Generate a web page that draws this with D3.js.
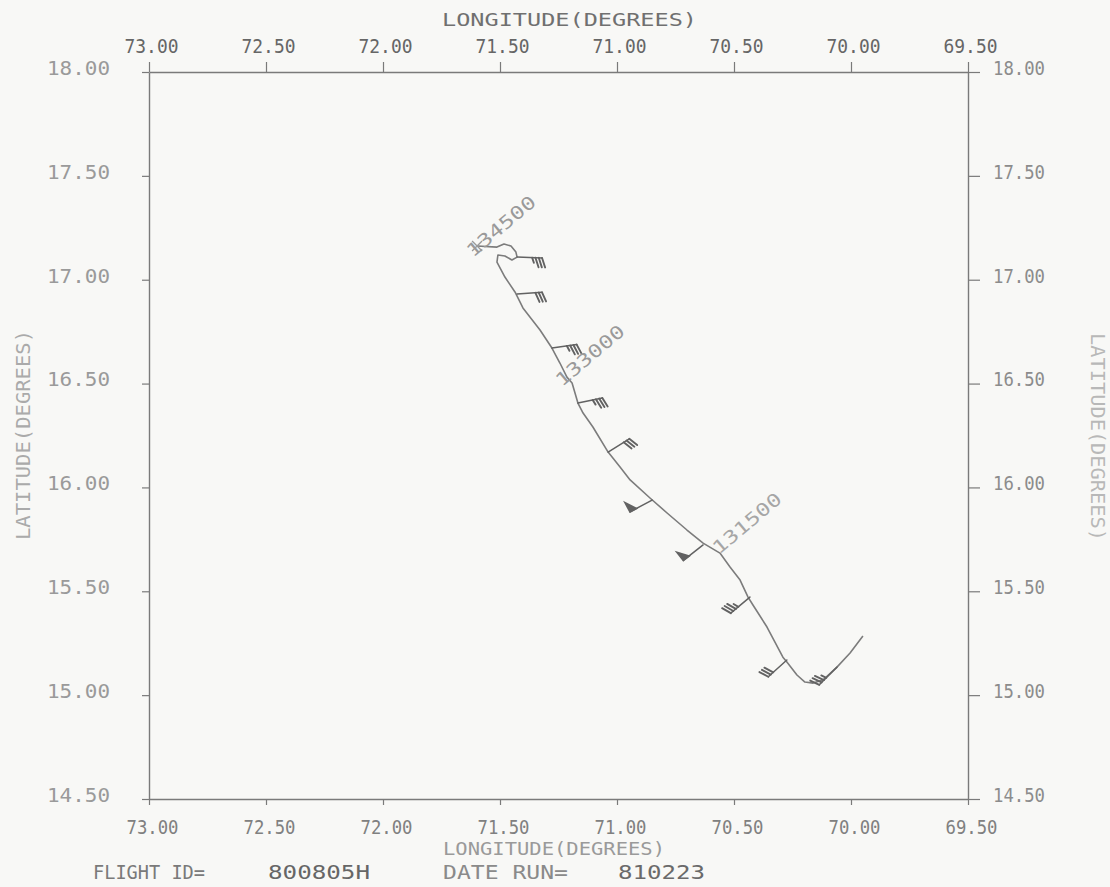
<!DOCTYPE html>
<html><head><meta charset="utf-8">
<script src="https://cdn.jsdelivr.net/npm/d3@7"></script>
<style>
html,body{margin:0;padding:0;background:#f8f8f6;}
svg{display:block;}
</style></head><body>
<svg id="c" width="1110" height="887"></svg>
<script>
// ---------- data ----------
const lonTicks = [73.0, 72.5, 72.0, 71.5, 71.0, 70.5, 70.0, 69.5];
const latTicks = [18.0, 17.5, 17.0, 16.5, 16.0, 15.5, 15.0, 14.5];

const trackLon = [71.598, 71.513, 71.483, 71.453, 71.432, 71.427, 71.449, 71.479, 71.509, 71.513,
  71.479, 71.436, 71.402, 71.329, 71.278, 71.244, 71.214, 71.192, 71.167, 71.145,
  71.103, 71.038, 70.987, 70.944, 70.859, 70.786, 70.701, 70.632, 70.560, 70.517,
  70.474, 70.440, 70.419, 70.359, 70.291, 70.274, 70.231, 70.197, 70.162, 70.120,
  70.060, 70.004, 69.949];
const trackLat = [17.162, 17.157, 17.172, 17.162, 17.133, 17.109, 17.095, 17.114, 17.119, 17.085,
  17.013, 16.941, 16.864, 16.758, 16.671, 16.599, 16.531, 16.503, 16.406, 16.358,
  16.291, 16.170, 16.098, 16.036, 15.949, 15.877, 15.795, 15.732, 15.684, 15.617,
  15.554, 15.472, 15.434, 15.328, 15.183, 15.159, 15.097, 15.063, 15.058, 15.073,
  15.135, 15.203, 15.285];

const barbLon = [71.427, 71.427, 71.278, 71.167, 71.038, 70.850, 70.632, 70.432, 70.274, 70.060];
const barbLat = [17.109, 16.931, 16.671, 16.406, 16.170, 15.939, 15.723, 15.472, 15.169, 15.135];
const barbDir = [92, 86, 82, 78, 58, 242, 232, 230, 228, 225];
const barbSpeed = [35, 30, 35, 35, 30, 50, 50, 35, 30, 35];

const timeLabels = ["134500", "133000", "131500"];
const timeLon = [71.598, 71.214, 70.560];
const timeLat = [17.162, 16.531, 15.684];

const lonTitle = "LONGITUDE(DEGREES)";
const latTitle = "LATITUDE(DEGREES)";
const footLabels = ["FLIGHT ID=", "800805H", "DATE RUN=", "810223"];

// ---------- drawing ----------
const FONT = '"DejaVu Sans Mono", monospace';
const svg = d3.select("#c");
svg.append("rect").attr("width", 1110).attr("height", 887).attr("fill", "#f8f8f6");

const x = d3.scaleLinear().domain([73, 69.5]).range([149, 968]);
const y = d3.scaleLinear().domain([18, 14.5]).range([72, 799]);
const fmt = d3.format(".2f");

function styleAxis(g, color, size, len) {
  g.select(".domain").attr("stroke", "#7a7a7a").attr("stroke-width", 1.4);
  g.selectAll(".tick line").attr("stroke", "#7a7a7a").attr("stroke-width", 1.2);
  g.selectAll(".tick text").attr("fill", color).attr("font-size", size)
    .attr("font-family", FONT).attr("textLength", len).attr("lengthAdjust", "spacingAndGlyphs");
}

const gTop = svg.append("g").attr("transform", "translate(0,72)")
  .call(d3.axisTop(x).tickValues(lonTicks).tickFormat(fmt).tickSize(10).tickSizeOuter(0).tickPadding(9));
styleAxis(gTop, "#666", 20, 54);
gTop.selectAll(".tick text").attr("dx", 2);

const gBot = svg.append("g").attr("transform", "translate(0,799)")
  .call(d3.axisBottom(x).tickValues(lonTicks).tickFormat(fmt).tickSize(6).tickSizeOuter(0).tickPadding(15));
styleAxis(gBot, "#808080", 20, 52);
gBot.selectAll(".tick text").attr("dx", 3);

const gLeft = svg.append("g").attr("transform", "translate(149,0)")
  .call(d3.axisLeft(y).tickValues(latTicks).tickFormat(fmt).tickSize(7).tickSizeOuter(0).tickPadding(32));
styleAxis(gLeft, "#9a9a9a", 20, 63);
gLeft.selectAll(".tick text").attr("dy", "0.12em");

const gRight = svg.append("g").attr("transform", "translate(968,0)")
  .call(d3.axisRight(y).tickValues(latTicks).tickFormat(fmt).tickSize(12).tickSizeOuter(0).tickPadding(13));
styleAxis(gRight, "#8c8c8c", 20, 52);
gRight.selectAll(".tick text").attr("dy", "0.12em");

// axis titles
svg.append("text").attr("x", 442).attr("y", 26).text(lonTitle)
  .attr("font-family", FONT).attr("font-size", 18).attr("fill", "#707070")
  .attr("textLength", 255).attr("lengthAdjust", "spacingAndGlyphs");
svg.append("text").attr("x", 443).attr("y", 855).text(lonTitle)
  .attr("font-family", FONT).attr("font-size", 18).attr("fill", "#9a9a9a")
  .attr("textLength", 222).attr("lengthAdjust", "spacingAndGlyphs");
svg.append("text").attr("transform", "translate(30,540) rotate(-90)").text(latTitle)
  .attr("font-family", FONT).attr("font-size", 19).attr("fill", "#aaa")
  .attr("textLength", 210).attr("lengthAdjust", "spacingAndGlyphs");
svg.append("text").attr("transform", "translate(1091,333) rotate(90)").text(latTitle)
  .attr("font-family", FONT).attr("font-size", 19).attr("fill", "#b8b8b8")
  .attr("textLength", 208).attr("lengthAdjust", "spacingAndGlyphs");

// footer
const footX = [93, 268, 443, 618];
const footW = [112, 102, 125, 87];
const footC = ["#7a7a7a", "#666", "#8a8a8a", "#6a6a6a"];
footLabels.forEach((t, i) => {
  svg.append("text").attr("x", footX[i]).attr("y", 879).text(t)
    .attr("font-family", FONT).attr("font-size", 19).attr("fill", footC[i])
    .attr("textLength", footW[i]).attr("lengthAdjust", "spacingAndGlyphs");
});

// track
const idx = d3.range(trackLon.length);
svg.append("path")
  .attr("d", d3.line().x(i => x(trackLon[i])).y(i => y(trackLat[i]))(idx))
  .attr("fill", "none").attr("stroke", "#7c7c7c").attr("stroke-width", 1.6)
  .attr("stroke-linejoin", "round");

// start marker
const sx = x(trackLon[0]), sy = y(trackLat[0]);
svg.append("path").attr("d", `M${sx-5},${sy-5}L${sx+5},${sy+5}M${sx-5},${sy+5}L${sx+5},${sy-5}`)
  .attr("stroke", "#999").attr("stroke-width", 1.3);

// wind barbs
const gB = svg.append("g").attr("stroke", "#626262").attr("fill", "#626262")
  .attr("stroke-width", 1.9).attr("stroke-linecap", "round");
const stemLen = 25, fLen = 10, fGap = 3.3;
barbLon.forEach((lon, i) => {
  const bx = x(lon), by = y(barbLat[i]);
  const th = (barbDir[i] - 90) * Math.PI / 180;
  const ux = Math.cos(th), uy = Math.sin(th);
  const px = Math.cos(th + Math.PI / 2), py = Math.sin(th + Math.PI / 2);
  const ex = bx + ux * stemLen, ey = by + uy * stemLen;
  gB.append("line").attr("x1", bx).attr("y1", by).attr("x2", ex).attr("y2", ey)
    .attr("stroke-width", 1.5);
  const fx = (px * 0.94 + ux * 0.34) * fLen, fy = (py * 0.94 + uy * 0.34) * fLen;
  let s = barbSpeed[i], pos = 0;
  while (s >= 50) {
    const ax = ex - ux * pos, ay = ey - uy * pos;
    const bx2 = ex - ux * (pos + 7), by2 = ey - uy * (pos + 7);
    gB.append("path").attr("d", `M${ax},${ay}L${bx2},${by2}L${ax + px * fLen},${ay + py * fLen}Z`);
    pos += 8; s -= 50;
  }
  while (s >= 10) {
    const ax = ex - ux * pos, ay = ey - uy * pos;
    gB.append("line").attr("x1", ax).attr("y1", ay).attr("x2", ax + fx).attr("y2", ay + fy);
    pos += fGap; s -= 10;
  }
  if (s >= 5) {
    const ax = ex - ux * pos, ay = ey - uy * pos;
    gB.append("line").attr("x1", ax).attr("y1", ay).attr("x2", ax + fx * 0.55).attr("y2", ay + fy * 0.55);
  }
});

// time labels
const tdx = [-4, -5, -1], tdy = [12, 10, 2];
timeLabels.forEach((t, i) => {
  const tx = x(timeLon[i]) + tdx[i], ty = y(timeLat[i]) + tdy[i];
  svg.append("text").attr("transform", `translate(${tx},${ty}) rotate(-40)`).text(t)
    .attr("font-family", FONT).attr("font-size", 18).attr("fill", i === 2 ? "#a6a6a6" : "#9a9a9a")
    .attr("textLength", 84).attr("lengthAdjust", "spacingAndGlyphs");
});
</script>
</body></html>
